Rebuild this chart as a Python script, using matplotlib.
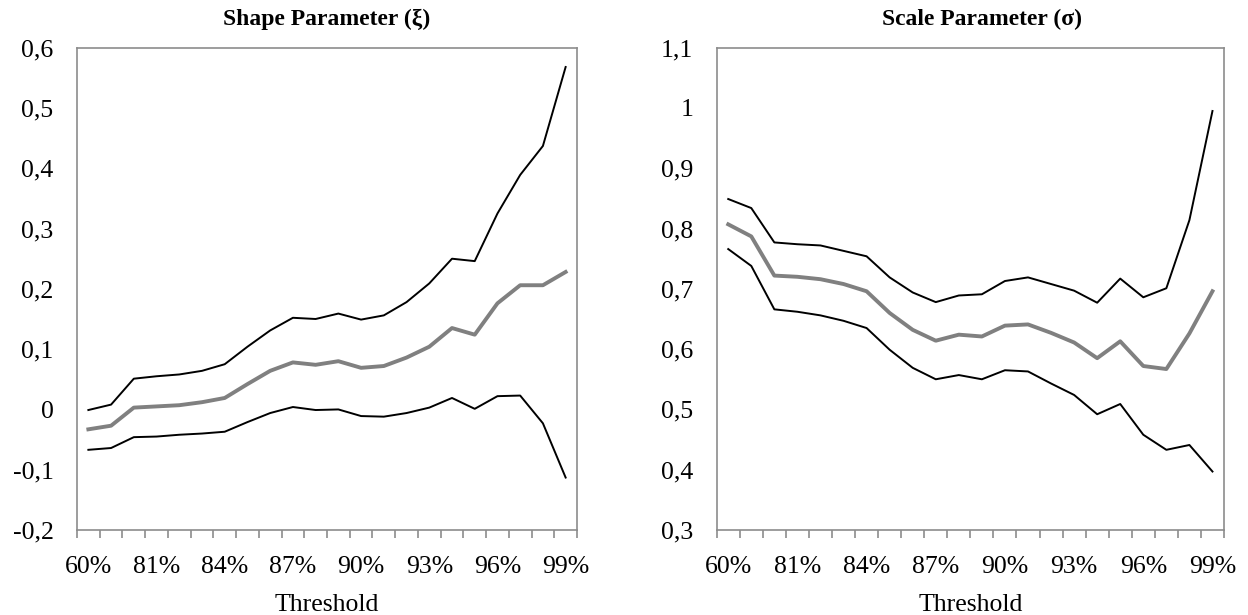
import matplotlib
matplotlib.use("Agg")
import matplotlib.pyplot as plt
import numpy as np

plt.rcParams['font.family'] = ['Liberation Serif', 'DejaVu Serif']

thresholds = ["60%", "70%", "80%", "81%", "82%", "83%", "84%", "85%", "86%", "87%", "88%",
              "89%", "90%", "91%", "92%", "93%", "94%", "95%", "96%", "97%", "98%", "99%"]

shape_upper = [-0.001, 0.008, 0.051, 0.055, 0.058, 0.064, 0.075, 0.104, 0.131, 0.152, 0.150,
               0.159, 0.149, 0.156, 0.178, 0.209, 0.250, 0.246, 0.325, 0.389, 0.437, 0.568]
shape_est = [-0.033, -0.027, 0.003, 0.005, 0.007, 0.012, 0.019, 0.042, 0.064, 0.078, 0.074,
             0.080, 0.069, 0.072, 0.086, 0.104, 0.135, 0.124, 0.176, 0.206, 0.206, 0.228]
shape_lower = [-0.067, -0.064, -0.046, -0.045, -0.042, -0.040, -0.037, -0.021, -0.006, 0.004, -0.001,
               0.000, -0.011, -0.012, -0.006, 0.003, 0.019, 0.001, 0.022, 0.023, -0.023, -0.113]

scale_upper = [0.849, 0.834, 0.777, 0.774, 0.772, 0.763, 0.754, 0.719, 0.694, 0.678, 0.689,
               0.691, 0.713, 0.719, 0.708, 0.697, 0.677, 0.717, 0.686, 0.701, 0.814, 0.995]
scale_est = [0.807, 0.787, 0.722, 0.720, 0.716, 0.708, 0.696, 0.660, 0.632, 0.614, 0.624,
             0.621, 0.639, 0.641, 0.627, 0.611, 0.585, 0.613, 0.572, 0.567, 0.626, 0.696]
scale_lower = [0.766, 0.738, 0.666, 0.662, 0.656, 0.647, 0.635, 0.599, 0.569, 0.550, 0.557,
               0.550, 0.565, 0.563, 0.543, 0.524, 0.492, 0.509, 0.458, 0.433, 0.441, 0.397]

shape_ticks = [-0.2, -0.1, 0, 0.1, 0.2, 0.3, 0.4, 0.5, 0.6]
scale_ticks = [0.3, 0.4, 0.5, 0.6, 0.7, 0.8, 0.9, 1.0, 1.1]

titles = ["Shape Parameter (ξ)", "Scale Parameter (σ)"]

fig = plt.figure(figsize=(12.48, 6.15), dpi=100)
ax1 = fig.add_axes([77/1248, 1-530/615, 500/1248, (530-47.7)/615])
ax2 = fig.add_axes([716.7/1248, 1-530/615, (1224-716.7)/1248, (530-47.7)/615])

def fmt(v):
    s = f"{v:.1f}".replace(".", ",")
    if s.endswith(",0"):
        s = s[:-2]
    if s == "-0":
        s = "0"
    return s

x = np.arange(len(thresholds))
for ax, (up, est, lo), yt, title, tx in [
        (ax1, (shape_upper, shape_est, shape_lower), shape_ticks, titles[0], 327/1248),
        (ax2, (scale_upper, scale_est, scale_lower), scale_ticks, titles[1], 982/1248)]:
    ax.plot(x, up, color='black', lw=1.4)
    ax.plot(x, lo, color='black', lw=1.4)
    ax.plot(x, est, color='#808080', lw=2.8)
    ax.set_xlim(-0.5, len(thresholds) - 0.5)
    ax.set_ylim(yt[0], yt[-1])
    ax.set_yticks(yt)
    ax.set_yticklabels([fmt(v) for v in yt], fontsize=18.5)
    ax.tick_params(axis='y', length=0, pad=17)
    ax.set_xticks(x[::3])
    ax.set_xticklabels(thresholds[::3], fontsize=18.5)
    ax.set_xticks(np.arange(-0.5, len(thresholds)), minor=True)
    ax.tick_params(axis='x', which='major', length=0, pad=19)
    ax.tick_params(axis='x', which='minor', length=6, color='#8c8c8c', width=1.2)
    for s in ax.spines.values():
        s.set_color('#8c8c8c')
        s.set_linewidth(1.2)
    ax.set_xlabel("Threshold", fontsize=18.5, labelpad=11)
    fig.text(tx, 1-19/615, title, ha='center', va='center', fontsize=17, fontweight='bold')

fig.savefig("out.png", dpi=100)
